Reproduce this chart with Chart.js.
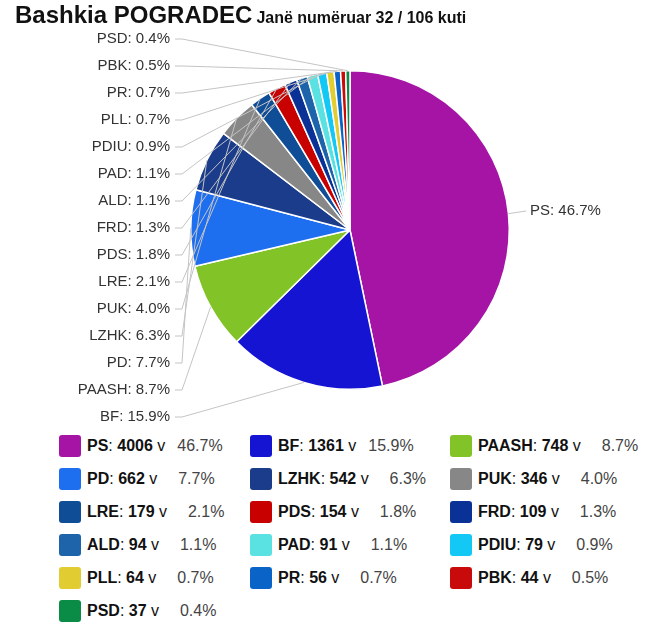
<!DOCTYPE html>
<html>
<head>
<meta charset="utf-8">
<script src="https://cdn.jsdelivr.net/npm/chart.js@4"></script>
<style>
  body { margin: 0; background: #fff; font-family: "Liberation Sans", Arial, sans-serif; }
  #wrap { position: relative; width: 660px; height: 632px; }
  #title { position: absolute; left: 15px; top: 1px; white-space: nowrap; color: #111; }
  #title .big { font-size: 24px; font-weight: bold; }
  #title .small { font-size: 16px; font-weight: bold; margin-left: 4px; }
  #chartBox { position: absolute; left: 0; top: 0; width: 660px; height: 430px; }
  #legend { position: absolute; left: 0; top: 430px; width: 660px; }
  .item { position: absolute; height: 22px; display: flex; align-items: center; white-space: nowrap; font-size: 16px; color: #111; }
  .sw { width: 22px; height: 22px; border-radius: 3px; margin-right: 6px; }
  .pct { color: #444; margin-left: 12px; }
</style>
</head>
<body>
<div id="wrap">
  <div id="chartBox"><canvas id="myChart"></canvas></div>
  <div id="title"><span class="big">Bashkia POGRADEC</span><span class="small">Janë numëruar 32 / 106 kuti</span></div>
  <div id="legend"></div>
</div>
<script>
const parties = ['PS', 'BF', 'PAASH', 'PD', 'LZHK', 'PUK', 'LRE', 'PDS', 'FRD', 'ALD', 'PAD', 'PDIU', 'PLL', 'PR', 'PBK', 'PSD'];
const votes = [4006, 1361, 748, 662, 542, 346, 179, 154, 109, 94, 91, 79, 64, 56, 44, 37];
const colors = ['#a514a5', '#1414d2', '#82c328', '#1e6ef0', '#1a3c8a', '#878787', '#0f4d96', '#c80000',
                '#0a3296', '#1e64aa', '#5ae1e1', '#14c8f5', '#e1cd32', '#0a64c8', '#c80a0a', '#0a8c46'];

const total = votes.reduce((a, b) => a + b, 0);
const pct = votes.map(v => (v / total * 100).toFixed(1));

// labels outside the pie, joined to the slices with thin grey lines
const outLabels = {
    id: 'outLabels',
    afterDraw(chart) {
        const ctx = chart.ctx;
        const arcs = chart.getDatasetMeta(0).data;
        ctx.save();
        ctx.font = '15px "Liberation Sans", Arial, sans-serif';
        ctx.textBaseline = 'middle';
        ctx.strokeStyle = '#c4c4c4';
        ctx.lineWidth = 1;
        arcs.forEach((arc, i) => {
            const p = arc.getProps(['x', 'y', 'startAngle', 'endAngle', 'outerRadius'], true);
            const mid = (p.startAngle + p.endAngle) / 2;
            const tx = p.x + Math.cos(mid) * p.outerRadius;
            const ty = p.y + Math.sin(mid) * p.outerRadius;
            const text = parties[i] + ': ' + pct[i] + '%';
            ctx.fillStyle = '#333';
            if (i === 0) {
                const ly = 211;
                ctx.beginPath();
                ctx.moveTo(tx, ty);
                ctx.lineTo(526, ly);
                ctx.stroke();
                ctx.textAlign = 'left';
                ctx.fillText(text, 530, ly);
            } else {
                const ly = 39 + 27 * (parties.length - 1 - i);
                ctx.beginPath();
                ctx.moveTo(175, ly);
                ctx.lineTo(182, ly);
                ctx.lineTo(tx, ty);
                ctx.stroke();
                ctx.textAlign = 'right';
                ctx.fillText(text, 170, ly);
            }
        });
        ctx.restore();
    }
};

new Chart(document.getElementById('myChart').getContext('2d'), {
    type: 'pie',
    data: {
        labels: parties,
        datasets: [{
            data: votes,
            backgroundColor: colors,
            borderColor: '#fff',
            borderWidth: 1.5
        }]
    },
    options: {
        responsive: true,
        maintainAspectRatio: false,
        animation: false,
        layout: { padding: { left: 190, right: 150, top: 70, bottom: 40 } },
        plugins: {
            legend: { display: false },
            tooltip: { enabled: false }
        }
    },
    plugins: [outLabels]
});

// html legend, three columns
const legend = document.getElementById('legend');
const colX = [59, 250, 450];
parties.forEach((name, i) => {
    const row = Math.floor(i / 3);
    const col = i % 3;
    const pad = pct[i].length < 4 ? '\u2007' : '';
    const el = document.createElement('div');
    el.className = 'item';
    el.style.left = colX[col] + 'px';
    el.style.top = (5 + row * 33) + 'px';
    el.innerHTML = '<span class="sw" style="background:' + colors[i] + '"></span>' +
        '<b>' + name + '</b>:&nbsp;<b>' + votes[i] + '</b>&nbsp;v' +
        '<span class="pct">' + pad + pct[i] + '%</span>';
    legend.appendChild(el);
});
</script>
</body>
</html>
